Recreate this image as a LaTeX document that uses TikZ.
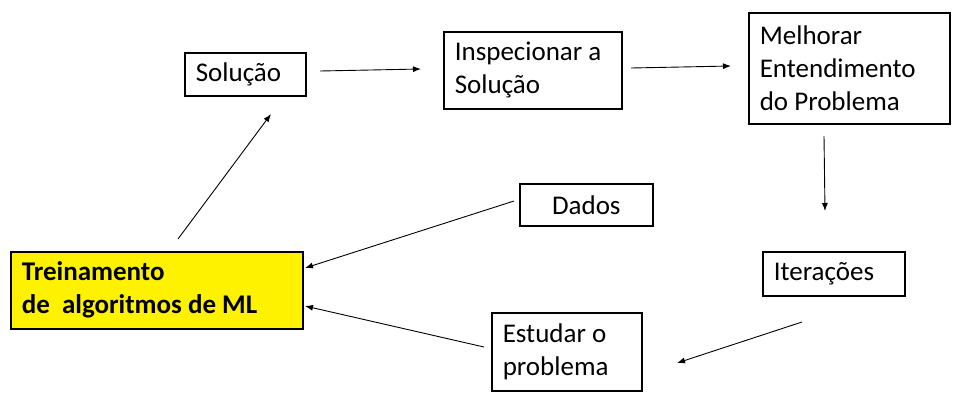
\documentclass[tikz,border=0pt]{standalone}
\usepackage{fontspec}
\setmainfont{Carlito}
\usetikzlibrary{arrows.meta}
\begin{document}
\begin{tikzpicture}[x=1pt,y=-1pt,
  box/.style={draw=black,line width=1.6pt,rectangle,inner xsep=11pt,inner ysep=0pt,anchor=north west,
    font=\fontsize{27}{33}\selectfont,align=flush left},
  arr/.style={line width=0.9pt,-{Latex[length=8pt,width=6pt]}}]
\useasboundingbox[fill=white] (0,0) rectangle (964,408);
\node[box,minimum height=43pt,text width=99pt] (sol) at (184,52) {Solução};
\node[box,minimum height=77pt,text width=156pt] (insp) at (443,31) {Inspecionar a\\Solução};
\node[box,minimum height=111pt,text width=179pt] (melh) at (748,12) {Melhorar\\Entendimento\\do Problema};
\node[box,minimum height=44pt,text width=120pt] (iter) at (762,251) {Iterações};
\node[box,minimum height=78pt,text width=128pt] (est) at (491,312) {Estudar o\\problema};
\node[box,minimum height=42pt,text width=111pt,align=center] (dad) at (519,183) {Dados};
\node[box,fill=yellow,minimum height=77pt,text width=270pt,font=\fontsize{27}{33}\selectfont\bfseries] (tre) at (10,251) {Treinamento\\de~ algoritmos de ML};
% connector end points
\coordinate (a1s) at (320,71); \coordinate (a1e) at (421,69);
\coordinate (a2s) at (631,68); \coordinate (a2e) at (731,66);
\coordinate (a3s) at (824,136); \coordinate (a3e) at (825,211);
\coordinate (a4s) at (802,322); \coordinate (a4e) at (677,363);
\coordinate (a5s) at (484,347); \coordinate (a5e) at (305,306);
\coordinate (a6s) at (514,201); \coordinate (a6e) at (305,268);
\coordinate (a7s) at (178,239); \coordinate (a7e) at (271,114);
\draw[arr] (a1s) -- (a1e);
\draw[arr] (a2s) -- (a2e);
\draw[arr] (a3s) -- (a3e);
\draw[arr] (a4s) -- (a4e);
\draw[arr] (a5s) -- (a5e);
\draw[arr] (a6s) -- (a6e);
\draw[arr] (a7s) -- (a7e);
\end{tikzpicture}
\end{document}
